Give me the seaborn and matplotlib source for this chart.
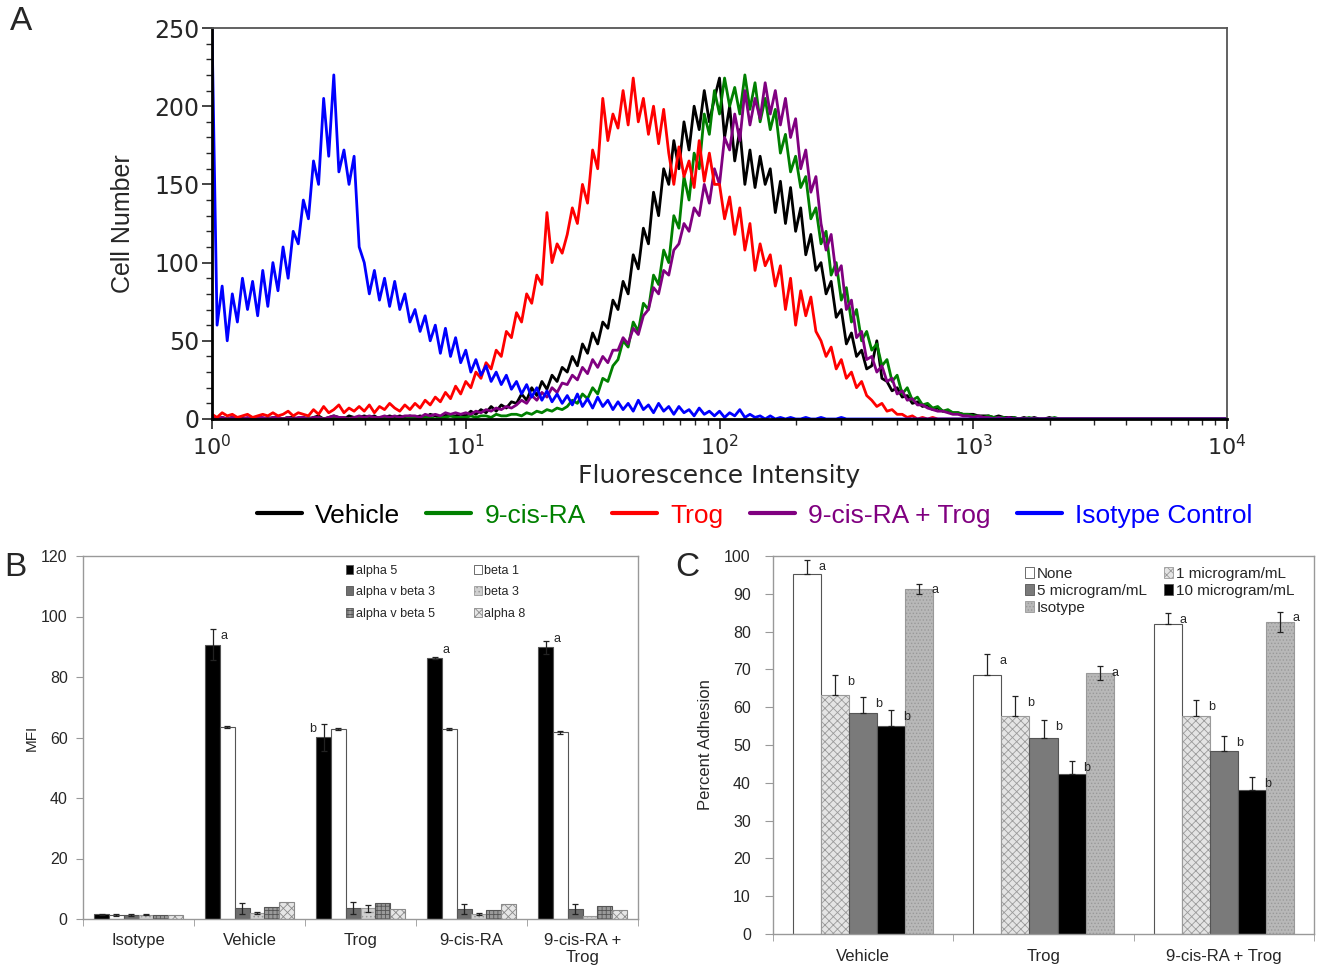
"""
Integrin expression / adhesion figure: flow histograms (A), MFI bars (B),
adhesion bars (C).
"""
import numpy as np
import pandas as pd
import matplotlib
matplotlib.use('Agg')
import matplotlib.pyplot as plt
from matplotlib.lines import Line2D
from matplotlib.patches import Patch
from matplotlib.ticker import MultipleLocator, FixedLocator, NullFormatter
import seaborn as sns

# ---------------- panel A: histograms, counts on a 0.02-decade grid ----------
log_fi = np.round(np.arange(201) * 0.02, 2)

isotype_control = [
    250, 60, 85, 50, 80, 62, 90, 70, 88, 66,
    95, 72, 100, 82, 110, 90, 120, 112, 140, 128,
    165, 150, 205, 168, 220, 158, 172, 150, 168, 110,
    100, 80, 95, 76, 90, 72, 88, 70, 80, 62,
    70, 56, 66, 50, 60, 42, 58, 40, 52, 36,
    44, 30, 38, 28, 34, 24, 30, 22, 28, 19,
    24, 16, 22, 14, 20, 12, 18, 11, 16, 10,
    15, 9, 16, 8, 13, 7, 14, 8, 12, 6,
    11, 6, 10, 5, 12, 6, 9, 4, 10, 5,
    8, 3, 8, 4, 6, 2, 7, 3, 5, 2,
    5, 1, 4, 2, 6, 1, 3, 1, 2, 0,
    2, 0, 1, 0, 1, 0, 0, 1, 0, 0,
    1, 0, 0, 0, 1, 0, 0, 0, 0, 0,
    0, 0, 0, 0, 0, 0, 0, 0, 0, 0,
    0, 0, 0, 0, 0, 0, 0, 0, 0, 0,
    0, 0, 0, 0, 0, 0, 0, 0, 0, 0,
    0, 0, 0, 0, 0, 0, 0, 0, 0, 0,
    0, 0, 0, 0, 0, 0, 0, 0, 0, 0,
    0, 0, 0, 0, 0, 0, 0, 0, 0, 0,
    0, 0, 0, 0, 0, 0, 0, 0, 0, 0,
    0]

trog = [
    3, 1, 4, 2, 3, 1, 2, 3, 1, 2,
    3, 2, 4, 2, 3, 5, 2, 4, 3, 2,
    6, 3, 8, 4, 6, 9, 4, 7, 5, 8,
    5, 9, 4, 8, 6, 10, 7, 5, 9, 6,
    10, 7, 12, 9, 14, 11, 17, 13, 21, 16,
    24, 20, 30, 26, 36, 32, 44, 40, 56, 52,
    68, 62, 80, 74, 92, 86, 132, 100, 112, 106,
    118, 135, 125, 150, 138, 172, 160, 205, 178, 195,
    186, 210, 188, 218, 190, 205, 182, 200, 176, 198,
    170, 150, 174, 155, 165, 148, 178, 152, 170, 150,
    150, 128, 142, 118, 135, 108, 125, 95, 112, 98,
    105, 85, 98, 70, 90, 60, 82, 66, 78, 56,
    50, 40, 46, 32, 38, 26, 30, 20, 24, 15,
    12, 8, 10, 5, 6, 3, 3, 1, 2, 0,
    1, 0, 1, 0, 0, 0, 0, 0, 0, 0,
    0, 0, 0, 0, 0, 0, 0, 0, 0, 0,
    0, 0, 0, 0, 0, 0, 0, 0, 0, 0,
    0, 0, 0, 0, 0, 0, 0, 0, 0, 0,
    0, 0, 0, 0, 0, 0, 0, 0, 0, 0,
    0, 0, 0, 0, 0, 0, 0, 0, 0, 0,
    0]

vehicle = [
    1, 0, 1, 0, 1, 0, 1, 0, 0, 1,
    0, 1, 0, 1, 0, 1, 1, 0, 1, 0,
    1, 2, 0, 1, 2, 1, 0, 2, 1, 1,
    2, 1, 2, 0, 1, 2, 1, 2, 1, 2,
    1, 2, 1, 3, 2, 1, 3, 2, 2, 3,
    2, 5, 3, 6, 4, 8, 5, 9, 7, 11,
    10, 16, 12, 20, 15, 24, 19, 28, 24, 33,
    30, 40, 34, 48, 42, 55, 48, 62, 58, 76,
    70, 88, 80, 105, 96, 122, 112, 145, 130, 160,
    150, 178, 160, 190, 172, 200, 185, 210, 190, 205,
    218, 180, 200, 165, 185, 150, 172, 148, 168, 150,
    160, 132, 152, 125, 148, 120, 135, 105, 118, 95,
    100, 80, 88, 65, 70, 48, 55, 40, 44, 32,
    34, 50, 26, 24, 18, 20, 14, 15, 10, 11,
    8, 9, 6, 7, 5, 5, 4, 4, 3, 3,
    3, 2, 2, 2, 1, 2, 1, 1, 1, 0,
    1, 0, 1, 0, 0, 1, 0, 0, 0, 0,
    0, 0, 0, 0, 0, 0, 0, 0, 0, 0,
    0, 0, 0, 0, 0, 0, 0, 0, 0, 0,
    0, 0, 0, 0, 0, 0, 0, 0, 0, 0,
    0]

nine_cis_ra = [
    0, 1, 0, 0, 1, 0, 0, 0, 1, 0,
    0, 0, 1, 0, 0, 1, 0, 0, 0, 1,
    0, 1, 0, 0, 1, 0, 1, 0, 0, 1,
    1, 0, 1, 0, 1, 1, 0, 1, 0, 1,
    1, 0, 1, 1, 0, 1, 1, 2, 1, 1,
    1, 2, 1, 2, 2, 1, 3, 2, 2, 3,
    3, 2, 4, 3, 5, 4, 6, 5, 7, 6,
    8, 12, 10, 16, 13, 20, 16, 26, 24, 34,
    38, 50, 46, 62, 56, 74, 70, 92, 86, 108,
    100, 130, 122, 155, 140, 170, 160, 195, 182, 210,
    195, 218, 200, 212, 195, 220, 198, 215, 190, 205,
    185, 198, 170, 182, 158, 168, 148, 155, 128, 135,
    112, 120, 92, 100, 76, 84, 62, 70, 50, 56,
    44, 48, 34, 38, 24, 28, 16, 20, 12, 14,
    9, 10, 7, 8, 5, 6, 4, 4, 3, 3,
    2, 2, 1, 2, 1, 1, 1, 0, 1, 0,
    0, 1, 0, 0, 0, 0, 1, 0, 0, 0,
    0, 0, 0, 0, 0, 0, 0, 0, 0, 0,
    0, 0, 0, 0, 0, 0, 0, 0, 0, 0,
    0, 0, 0, 0, 0, 0, 0, 0, 0, 0,
    0]

ra_trog = [
    1, 0, 1, 0, 1, 1, 0, 1, 0, 1,
    1, 0, 1, 1, 0, 1, 0, 1, 1, 0,
    1, 1, 0, 1, 2, 1, 1, 0, 1, 2,
    1, 2, 1, 1, 2, 1, 2, 1, 2, 2,
    2, 1, 3, 2, 3, 2, 4, 3, 4, 3,
    4, 3, 5, 4, 6, 5, 7, 6, 8, 7,
    9, 12, 10, 15, 12, 17, 14, 20, 17, 23,
    22, 28, 25, 33, 29, 38, 33, 40, 36, 44,
    44, 52, 48, 58, 54, 66, 70, 84, 80, 95,
    92, 108, 112, 125, 120, 135, 130, 150, 138, 160,
    150, 180, 172, 195, 178, 210, 188, 205, 192, 215,
    195, 210, 188, 205, 180, 192, 160, 172, 145, 155,
    125, 108, 118, 92, 98, 70, 76, 52, 56, 38,
    40, 30, 34, 24, 26, 16, 18, 12, 13, 9,
    9, 7, 6, 5, 5, 4, 3, 3, 2, 2,
    1, 2, 1, 1, 0, 1, 0, 1, 0, 0,
    0, 0, 0, 0, 0, 0, 0, 0, 0, 0,
    0, 0, 0, 0, 0, 0, 0, 0, 0, 0,
    0, 0, 0, 0, 0, 0, 0, 0, 0, 0,
    0, 0, 0, 0, 0, 0, 0, 0, 0, 0,
    0]

legend_order = ['Vehicle', '9-cis-RA', 'Trog', '9-cis-RA + Trog', 'Isotype Control']
draw_order = ['Vehicle', '9-cis-RA', '9-cis-RA + Trog', 'Trog', 'Isotype Control']
line_colors = {'Vehicle': '#000000', '9-cis-RA': '#008000', 'Trog': '#ff0000',
               '9-cis-RA + Trog': '#800080', 'Isotype Control': '#0000ff'}
counts = {'Vehicle': vehicle, '9-cis-RA': nine_cis_ra, 'Trog': trog,
          '9-cis-RA + Trog': ra_trog, 'Isotype Control': isotype_control}

# ---------------- panel B: integrin MFI ----------------
groups_b = ['Isotype', 'Vehicle', 'Trog', '9-cis-RA', '9-cis-RA +\nTrog']
integrins = ['alpha 5', 'beta 1', 'alpha v beta 3', 'beta 3', 'alpha v beta 5', 'alpha 8']
mfi_alpha5 = [1.5, 90.7, 60.1, 86.2, 89.8]
mfi_beta1 = [1.4, 63.4, 62.8, 62.7, 61.7]
mfi_avb3 = [1.2, 3.5, 3.5, 3.3, 3.3]
mfi_beta3 = [1.4, 2.0, 3.5, 1.6, 1.1]
mfi_avb5 = [1.4, 4.1, 5.3, 3.0, 4.2]
mfi_alpha8 = [1.4, 5.7, 3.3, 5.0, 3.1]
sem_alpha5 = [0.2, 5.2, 4.4, 0.3, 2.2]
sem_beta1 = [0.3, 0.4, 0.4, 0.3, 0.4]
sem_avb3 = [0.3, 1.8, 2.0, 1.7, 1.7]
sem_beta3 = [0.2, 0.4, 1.1, 0.3, 0.0]
sem_avb5 = [0, 0, 0, 0, 0]
sem_alpha8 = [0, 0, 0, 0, 0]
# (group, integrin, letter, side)
letters_b = [(1, 'alpha 5', 'a', 'right'), (2, 'alpha 5', 'b', 'left'),
             (3, 'alpha 5', 'a', 'right'), (4, 'alpha 5', 'a', 'right')]

# ---------------- panel C: percent adhesion ----------------
groups_c = ['Vehicle', 'Trog', '9-cis-RA + Trog']
doses = ['None', '1 microgram/mL', '5 microgram/mL', '10 microgram/mL', 'Isotype']
adh_none = [95.2, 68.6, 82.0]
adh_1 = [63.2, 57.8, 57.8]
adh_5 = [58.5, 51.9, 48.3]
adh_10 = [55.1, 42.3, 38.1]
adh_iso = [91.3, 69.1, 82.6]
err_none = [3.7, 5.4, 3.0]
err_1 = [5.3, 5.2, 4.0]
err_5 = [4.1, 4.6, 4.1]
err_10 = [4.2, 3.5, 3.5]
err_iso = [1.4, 1.8, 2.7]
letters_c = ['a', 'b', 'b', 'b', 'a']

W, H = 1319, 969
sns.set_style('ticks')
plt.rcParams['font.family'] = ['Liberation Sans', 'DejaVu Sans']
plt.rcParams['hatch.linewidth'] = 0.6

fig = plt.figure(figsize=(W / 100, H / 100), dpi=100)

# ================= A =================
axA = fig.add_axes([212 / W, 1 - 419 / H, 1015 / W, 391 / H])
hist = pd.DataFrame({
    'fi': np.tile(10 ** log_fi, len(draw_order)),
    'count': np.concatenate([counts[k] for k in draw_order]),
    'treatment': np.repeat(draw_order, len(log_fi)),
})
sns.lineplot(data=hist, x='fi', y='count', hue='treatment', hue_order=draw_order,
             palette=line_colors, estimator=None, linewidth=2.0, legend=False,
             ax=axA)
axA.set_xscale('log')
axA.set_xlim(1, 1e4)
axA.set_ylim(0, 250)
axA.yaxis.set_major_locator(MultipleLocator(50))
axA.yaxis.set_minor_locator(MultipleLocator(10))
axA.xaxis.set_major_locator(FixedLocator([1, 10, 100, 1000, 10000]))
axA.set_xticklabels([r'$10^{0}$', r'$10^{1}$', r'$10^{2}$', r'$10^{3}$', r'$10^{4}$'])
axA.xaxis.set_minor_formatter(NullFormatter())
axA.tick_params(axis='x', which='major', direction='out', length=7, width=1.2,
                labelsize=16)
axA.tick_params(axis='y', which='major', direction='out', length=7, width=1.2,
                labelsize=17, pad=2)
axA.tick_params(axis='both', which='minor', direction='out', length=4, width=1)
for lab in axA.get_xticklabels() + axA.get_yticklabels():
    lab.set_fontfamily('DejaVu Sans')
for side in ['left', 'bottom']:
    axA.spines[side].set_linewidth(2)
    axA.spines[side].set_color('black')
for side in ['top', 'right']:
    axA.spines[side].set_linewidth(1.3)
    axA.spines[side].set_color('#555555')
axA.set_xlabel('Fluorescence Intensity', fontsize=18, fontfamily='DejaVu Sans',
               labelpad=4)
axA.set_ylabel('Cell Number', fontsize=18, labelpad=14)

handles = [Line2D([0], [0], color=line_colors[k], lw=3) for k in legend_order]
fig.legend(handles, legend_order, loc='center', bbox_to_anchor=(0.572, 0.468),
           ncol=5, frameon=False, fontsize=19, handlelength=1.7,
           handletextpad=0.5, columnspacing=1.0, labelcolor='linecolor')

# ================= B =================
axB = fig.add_axes([83 / W, 1 - 919 / H, 555 / W, 363 / H])
b_colors = ['#000000', '#ffffff', '#6e6e6e', '#d0d0d0', '#9a9a9a', '#e6e6e6']
b_hatch = [None, None, None, '....', '++++', 'xxxx']
b_hatch_col = ['#555555', '#555555', '#555555', '#9a9a9a', '#555555', '#8a8a8a']
mfi = pd.DataFrame({
    'group': np.tile(groups_b, len(integrins)),
    'integrin': np.repeat(integrins, len(groups_b)),
    'mfi': np.concatenate([mfi_alpha5, mfi_beta1, mfi_avb3, mfi_beta3,
                           mfi_avb5, mfi_alpha8]),
})
sem_b = [sem_alpha5, sem_beta1, sem_avb3, sem_beta3, sem_avb5, sem_alpha8]
sns.barplot(data=mfi, x='group', y='mfi', hue='integrin', order=groups_b,
            hue_order=integrins, palette=dict(zip(integrins, b_colors)),
            saturation=1, width=0.8, errorbar=None, edgecolor='#555555',
            linewidth=0.8, legend=False, ax=axB)
bar_pos_b = {}
for cont, name, hatch, hcol, errs in zip(axB.containers, integrins, b_hatch,
                                         b_hatch_col, sem_b):
    xs, ys, es = [], [], []
    for gi, (patch, err) in enumerate(zip(cont.patches, errs)):
        if hatch:
            patch.set_hatch(hatch)
            patch.set_edgecolor(hcol)
        xc = patch.get_x() + patch.get_width() / 2
        bar_pos_b[(gi, name)] = (xc, patch.get_height(), patch.get_width())
        if err > 0:
            xs.append(xc)
            ys.append(patch.get_height())
            es.append(err)
    if xs:
        axB.errorbar(xs, ys, yerr=es, fmt='none', ecolor='#222222',
                     elinewidth=0.9, capsize=2.5, capthick=0.9, zorder=5)
for gi, name, letter, side in letters_b:
    xc, h, w = bar_pos_b[(gi, name)]
    dx = 0.75 * w if side == 'right' else -0.75 * w
    axB.text(xc + dx, h + 2.7, letter, fontsize=9, ha='center', va='center')
axB.set_ylim(0, 120)
axB.set_xlim(-0.5, 4.5)
axB.yaxis.set_major_locator(MultipleLocator(20))
axB.set_xlabel('')
axB.set_ylabel('MFI', fontsize=11, labelpad=2)
axB.xaxis.set_minor_locator(FixedLocator([-0.5, 0.5, 1.5, 2.5, 3.5, 4.5]))
axB.tick_params(axis='x', which='major', length=0, labelsize=12, pad=10)
axB.tick_params(axis='x', which='minor', length=5, color='#999999', direction='out')
axB.tick_params(axis='y', length=5, color='#999999', labelsize=11.5,
                direction='out', pad=6)
for s in axB.spines.values():
    s.set_color('#999999')
    s.set_linewidth(1)
leg_idx_b = [0, 2, 4, 1, 3, 5]
handles_b = [Patch(facecolor=b_colors[i], edgecolor=b_hatch_col[i],
                   hatch=b_hatch[i], linewidth=0.6) for i in leg_idx_b]
axB.legend(handles_b, [integrins[i] for i in leg_idx_b], ncol=2, frameon=False,
           loc='upper left', bbox_to_anchor=(0.458, 1.0), fontsize=9,
           handlelength=0.6, handleheight=0.7, handletextpad=0.2,
           labelspacing=0.75, columnspacing=3.15, borderaxespad=0.3)

# ================= C =================
axC = fig.add_axes([773 / W, 1 - 934 / H, 541 / W, 378 / H])
c_colors = ['#ffffff', '#e4e4e4', '#7a7a7a', '#000000', '#b8b8b8']
c_hatch = [None, 'xxxx', None, None, '.....']
c_hatch_col = ['#555555', '#9a9a9a', '#555555', '#555555', '#999999']
adh = pd.DataFrame({
    'group': np.tile(groups_c, len(doses)),
    'dose': np.repeat(doses, len(groups_c)),
    'adhesion': np.concatenate([adh_none, adh_1, adh_5, adh_10, adh_iso]),
})
err_c = [err_none, err_1, err_5, err_10, err_iso]
two_sided = [False, False, False, False, True]
sns.barplot(data=adh, x='group', y='adhesion', hue='dose', order=groups_c,
            hue_order=doses, palette=dict(zip(doses, c_colors)), saturation=1,
            width=0.78, errorbar=None, edgecolor='#555555', linewidth=0.8,
            legend=False, ax=axC)
for cont, hatch, hcol, errs, both, letter in zip(axC.containers, c_hatch,
                                                 c_hatch_col, err_c, two_sided,
                                                 letters_c):
    xs = [p.get_x() + p.get_width() / 2 for p in cont.patches]
    ys = [p.get_height() for p in cont.patches]
    for patch in cont.patches:
        if hatch:
            patch.set_hatch(hatch)
            patch.set_edgecolor(hcol)
    lower = errs if both else [0] * len(errs)
    axC.errorbar(xs, ys, yerr=[lower, errs], fmt='none', ecolor='#222222',
                 elinewidth=0.9, capsize=2.5, capthick=0.9, zorder=5)
    w = cont.patches[0].get_width()
    for x, y, e in zip(xs, ys, errs):
        axC.text(x + 0.55 * w, y + e - 1.8, letter, fontsize=9, ha='center',
                 va='center')
axC.set_ylim(0, 100)
axC.set_xlim(-0.5, 2.5)
axC.yaxis.set_major_locator(MultipleLocator(10))
axC.set_xlabel('')
axC.set_ylabel('Percent Adhesion', fontsize=12, labelpad=8)
axC.xaxis.set_minor_locator(FixedLocator([-0.5, 0.5, 1.5, 2.5]))
axC.tick_params(axis='x', which='major', length=0, labelsize=12, pad=11)
axC.tick_params(axis='x', which='minor', length=5, color='#999999', direction='out')
axC.tick_params(axis='y', length=6, color='#999999', labelsize=11.5,
                direction='out', pad=10)
for s in axC.spines.values():
    s.set_color('#999999')
    s.set_linewidth(1)
leg_idx_c = [0, 2, 4, 1, 3]
handles_c = [Patch(facecolor=c_colors[i], edgecolor=c_hatch_col[i],
                   hatch=c_hatch[i], linewidth=0.6) for i in leg_idx_c]
axC.legend(handles_c, [doses[i] for i in leg_idx_c], ncol=2, frameon=False,
           loc='upper left', bbox_to_anchor=(0.4455, 1.0), fontsize=11,
           handlelength=0.6, handleheight=0.7, handletextpad=0.2,
           labelspacing=0.2, columnspacing=1.1, borderaxespad=0.3)

# panel letters
fig.text(10 / W, 1 - 22 / H, 'A', fontsize=24, va='center')
fig.text(4 / W, 1 - 567 / H, 'B', fontsize=24, va='center')
fig.text(675 / W, 1 - 567 / H, 'C', fontsize=24, va='center')

fig.savefig('out.png', dpi=100)
